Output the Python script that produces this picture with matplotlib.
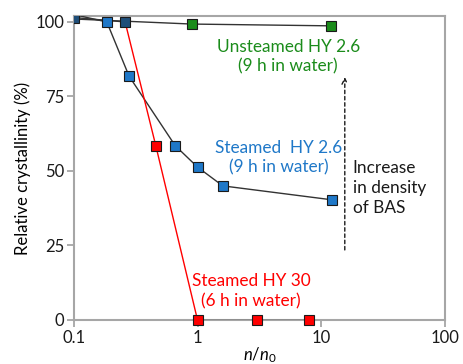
import matplotlib
matplotlib.use("Agg")
import matplotlib.pyplot as plt

plt.rcParams['font.family'] = ['Lato', 'DejaVu Sans']
plt.rcParams['mathtext.fontset'] = 'custom'
plt.rcParams['mathtext.rm'] = 'Lato'
plt.rcParams['mathtext.it'] = 'Lato:italic'

# dados
unst_x = [0.1, 0.9, 12.0]
unst_y = [101.0, 99.3, 98.7]

st26_x = [0.1, 0.185, 0.28, 0.66, 1.0, 1.6, 12.3]
st26_y = [102.5, 100.0, 81.8, 58.5, 51.3, 45.0, 40.3]

hy30_x = [0.1, 0.26, 0.46, 1.0, 3.0, 7.9]
hy30_y = [101.5, 100.0, 58.5, 0.0, 0.0, 0.0]

green = '#1b8c1b'
blue = '#1f78c8'
navy = '#1f4e79'
red = '#ff0000'
spine_c = '#a6a6a6'

fig, ax = plt.subplots(figsize=(4.64, 3.64), dpi=100)
fig.subplots_adjust(left=0.159, right=0.959, bottom=0.121, top=0.956)

mk = dict(marker='s', markersize=6.5, markeredgecolor='#1a1a1a', markeredgewidth=0.8)

# Unsteamed HY 2.6
ax.plot(unst_x, unst_y, color='#333333', lw=1.0, zorder=3)
ax.plot(unst_x[1:], unst_y[1:], ls='none', color=green, zorder=5, **mk)

# Steamed HY 2.6
ax.plot(st26_x, st26_y, color='#333333', lw=1.0, zorder=3)
ax.plot(st26_x, st26_y, ls='none', color=blue, zorder=5, **mk)

# Steamed HY 30
ax.plot(hy30_x[:2], hy30_y[:2], color='#333333', lw=1.0, zorder=3)
ax.plot(hy30_x[1:4], hy30_y[1:4], color=red, lw=1.0, zorder=3)
ax.plot(hy30_x[3:], hy30_y[3:], color='#333333', lw=1.0, zorder=3)
ax.plot(hy30_x[:2], hy30_y[:2], ls='none', color=navy, zorder=6, **mk)
ax.plot(hy30_x[2:], hy30_y[2:], ls='none', color=red, zorder=5, clip_on=False, **mk)

ax.set_xscale('log')
ax.set_xlim(0.1, 100)
ax.set_ylim(0, 102)
ax.set_xticks([0.1, 1, 10, 100])
ax.set_xticklabels(['0.1', '1', '10', '100'])
ax.minorticks_off()
ax.set_yticks([0, 25, 50, 75, 100])

for s in ax.spines.values():
    s.set_color(spine_c)
    s.set_linewidth(1.5)
ax.tick_params(direction='out', length=5, width=1.3, color=spine_c,
               labelsize=12, labelcolor='#1a1a1a', pad=2)

ax.set_xlabel(r'$\mathit{n}/\mathit{n}_\mathrm{0}$', fontsize=12, labelpad=0)
ax.set_ylabel('Relative crystallinity (%)', fontsize=12, labelpad=3)

fs = 12.4
ax.text(5.4, 88.4, 'Unsteamed HY 2.6\n(9 h in water)', color=green, fontsize=fs,
        ha='center', va='center', linespacing=1.3)
ax.text(4.5, 54.5, 'Steamed  HY 2.6\n(9 h in water)', color=blue, fontsize=fs,
        ha='center', va='center', linespacing=1.3)
ax.text(2.7, 9.7, 'Steamed HY 30\n(6 h in water)', color=red, fontsize=fs,
        ha='center', va='center', linespacing=1.3)
ax.text(18, 44.3, 'Increase\nin density\nof BAS', color='#1a1a1a', fontsize=fs,
        ha='left', va='center', linespacing=1.3)

ax.annotate('', xy=(15.5, 81.5), xytext=(15.5, 23.5),
            arrowprops=dict(arrowstyle='->', color='#1a1a1a', lw=1.0,
                            linestyle=(0, (2.5, 2)), shrinkA=0, shrinkB=0))

plt.savefig('out.png', dpi=100)
plt.close()
